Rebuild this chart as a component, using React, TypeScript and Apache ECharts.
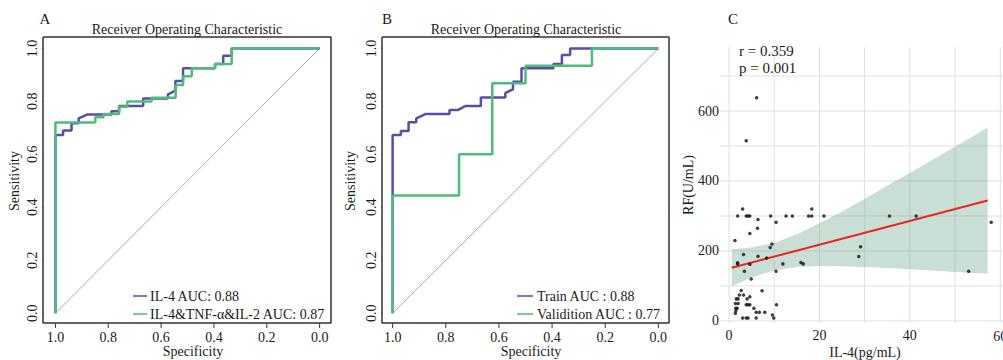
import React, { useEffect, useRef } from "react";
import * as echarts from "echarts";

// ---------- Panel A / B : ROC curves, points are [specificity, sensitivity] ----------
const rocTicks = [0, 0.2, 0.4, 0.6, 0.8, 1.0];

const il4Curve = [
  [1, 0], [1, 0.673], [0.971, 0.673], [0.971, 0.69], [0.939, 0.69], [0.939, 0.717],
  [0.912, 0.717], [0.912, 0.736], [0.88, 0.75], [0.788, 0.75], [0.788, 0.763],
  [0.759, 0.763], [0.759, 0.782], [0.668, 0.782], [0.668, 0.811], [0.574, 0.811],
  [0.574, 0.826], [0.546, 0.84], [0.546, 0.877], [0.517, 0.877], [0.517, 0.925],
  [0.396, 0.925], [0.396, 0.941], [0.365, 0.941], [0.365, 0.972], [0.333, 0.972],
  [0.333, 1], [0, 1],
];

const comboCurve = [
  [1, 0], [1, 0.72], [0.849, 0.72], [0.849, 0.74], [0.818, 0.74], [0.818, 0.752],
  [0.759, 0.752], [0.759, 0.78], [0.728, 0.78], [0.728, 0.799], [0.636, 0.799],
  [0.636, 0.814], [0.545, 0.814], [0.545, 0.862], [0.517, 0.862], [0.517, 0.895],
  [0.484, 0.895], [0.484, 0.925], [0.396, 0.925], [0.396, 0.941], [0.333, 0.941],
  [0.333, 1], [0, 1],
];

const trainCurve = [
  [1, 0], [1, 0.673], [0.969, 0.673], [0.969, 0.688], [0.94, 0.688], [0.94, 0.721],
  [0.911, 0.721], [0.911, 0.736], [0.877, 0.752], [0.786, 0.752], [0.786, 0.767],
  [0.755, 0.767], [0.727, 0.782], [0.668, 0.782], [0.668, 0.815], [0.576, 0.815],
  [0.576, 0.832], [0.547, 0.845], [0.547, 0.874], [0.515, 0.874], [0.515, 0.925],
  [0.395, 0.925], [0.395, 0.941], [0.363, 0.941], [0.363, 0.975], [0.332, 0.975],
  [0.332, 1], [0, 1],
];

const validCurve = [
  [1, 0], [1, 0.444], [0.75, 0.444], [0.75, 0.6], [0.625, 0.6], [0.625, 0.868],
  [0.5, 0.868], [0.5, 0.934], [0.25, 0.934], [0.25, 1], [0, 1],
];

const chanceLine = [[1, 0], [0, 1]];

const legendA = ["IL-4 AUC: 0.88", "IL-4&TNF-α&IL-2 AUC: 0.87"];
const legendB = ["Train AUC : 0.88", "Validition AUC : 0.77"];

// ---------- Panel C : scatter IL-4 vs RF ----------
const il4Values = [
  3.0, 1.9, 3.8, 4.2, 4.6, 9.2, 12.6, 14.0, 17.6, 18.3, 18.3, 21.0, 6.4, 6.3, 4.6,
  1.3, 9.5, 9.1, 3.2, 6.4, 8.3, 1.9, 1.9, 4.6, 11.9, 15.9, 16.4, 3.4, 10.4, 4.9,
  7.3, 2.7, 2.3, 3.2, 4.0, 1.6, 2.0, 4.6, 1.4, 2.0, 3.8, 4.2, 4.6, 10.5, 1.5,
  1.8, 1.5, 1.4, 5.5, 6.0, 6.7, 7.9, 9.6, 3.0, 3.8, 4.2, 6.0, 9.9, 10.4, 35.5,
  41.4, 29.1, 28.7, 53.0, 58.0, 6.1, 3.8,
];
const rfValues = [
  320, 300, 300, 300, 300, 300, 300, 300, 300, 300, 320, 300, 290, 265, 250,
  230, 220, 210, 190, 185, 180, 166, 163, 162, 163, 167, 163, 142, 142, 120,
  86, 87, 74, 74, 63, 63, 63, 69, 50, 50, 46, 46, 46, 46, 36,
  36, 29, 22, 36, 25, 25, 25, 17, 8, 8, 8, 8, 8, 282, 300,
  300, 212, 184, 142, 282, 638, 515,
];

const fitX = [0.6, 57.2];
const fitY = [152, 344];

const bandX = [0.6, 5, 10, 15, 20, 25, 30, 35, 40, 45, 50, 57.2];
const bandLower = [99, 124, 145, 154, 157, 156, 154, 151, 148, 144, 140, 135];
const bandUpper = [205, 210, 223, 248, 279, 313, 349, 386, 423, 461, 498, 553];

const xTicksC = [0, 20, 40, 60];
const yTicksC = [0, 200, 400, 600];
const xGridC = [0, 10, 20, 30, 40, 50, 60];
const yGridC = [0, 100, 200, 300, 400, 500, 600, 700];

const FONT = '"Liberation Serif", "Times New Roman", serif';
const PURPLE = "#5A4DA6";
const GREEN = "#4DBD7A";
const TXT = "#1a1a1a";
const BOX = "#333333";
const GRIDC = "#e0e0e0";

const rocX = [
  { min: -0.043, max: 1.047 },
  { min: -0.04, max: 1.04 },
];
const rocY = { min: -0.037, max: 1.043 };
const cX = { min: -2, max: 60.6 };
const cY = { min: -6, max: 783 };

const rocLabelFmt = (v: number) => v.toFixed(1);

function rocXAxis(gridIndex: number) {
  return {
    type: "value",
    gridIndex,
    position: "bottom",
    inverse: true,
    min: rocX[gridIndex].min,
    max: rocX[gridIndex].max,
    axisLine: { show: false, onZero: false },
    splitLine: { show: false },
    axisTick: { show: false },
    axisLabel: {
      customValues: rocTicks,
      formatter: rocLabelFmt,
      fontFamily: FONT,
      fontSize: 14,
      color: TXT,
      margin: 7,
    },
  };
}

function rocYAxis(gridIndex: number) {
  return {
    type: "value",
    gridIndex,
    position: "left",
    min: rocY.min,
    max: rocY.max,
    axisLine: { show: false, onZero: false },
    splitLine: { show: false },
    axisTick: { show: false },
    axisLabel: {
      customValues: rocTicks,
      formatter: rocLabelFmt,
      fontFamily: FONT,
      fontSize: 14,
      color: TXT,
      rotate: 90,
      margin: 4,
    },
  };
}

function txt(text: string, x: number, y: number, size: number, align = "center", rotation = 0) {
  return {
    type: "text",
    x,
    y,
    rotation,
    silent: true,
    z: 20,
    style: {
      text,
      font: `${size}px ${FONT}`,
      fill: TXT,
      align,
      verticalAlign: "middle",
    },
  };
}

function legendLine(x1: number, x2: number, y: number, color: string) {
  return {
    type: "line",
    silent: true,
    z: 20,
    shape: { x1, y1: y, x2, y2: y },
    style: { stroke: color, lineWidth: 1.5 },
  };
}

// a plain line series through the given points (used for curves and rules)
function path(data: any[], color: string, width: number, idx: number, z: number, name?: string) {
  return {
    name,
    type: "line",
    xAxisIndex: idx,
    yAxisIndex: idx,
    data,
    showSymbol: false,
    symbol: "none",
    clip: false,
    connectNulls: false,
    lineStyle: { color, width },
    z,
    silent: true,
  };
}

export default function App() {
  const ref = useRef<HTMLDivElement>(null);

  useEffect(() => {
    document.body.style.margin = "0";
    if (!ref.current) return;
    const chart = echarts.init(ref.current, undefined, { renderer: "svg" });

    const grids = [
      { left: 43, top: 37, width: 288, height: 286 },
      { left: 382, top: 37, width: 287, height: 286 },
      { left: 720, top: 47, width: 283, height: 276 },
    ];

    const scatterData = il4Values.map((x, i) => [x, rfValues[i]]);
    const bandData = bandX.map((x, i) => [x, bandLower[i], bandUpper[i]]);

    const series: any[] = [];

    // ROC panels: frame, ticks, chance line and curves as line series on the panel's own axes
    [0, 1].forEach((gi) => {
      const xr = rocX[gi];
      const frame = [
        [xr.max, rocY.max],
        [xr.min, rocY.max],
        [xr.min, rocY.min],
        [xr.max, rocY.min],
        [xr.max, rocY.max],
      ];
      series.push(path(frame, BOX, 1.5, gi, 10));
      // tick length of 5 px expressed in each axis' units
      const tx = (5 * (xr.max - xr.min)) / grids[gi].width;
      const ty = (5 * (rocY.max - rocY.min)) / grids[gi].height;
      rocTicks.forEach((t) => {
        series.push(path([[t, rocY.min], [t, rocY.min - ty]], BOX, 1, gi, 10));
        series.push(path([[xr.max, t], [xr.max + tx, t]], BOX, 1, gi, 10));
      });
      series.push(path(chanceLine, "#aaaaaa", 1, gi, 1));
    });
    series.push(path(il4Curve, PURPLE, 2.5, 0, 2, legendA[0]));
    series.push(path(comboCurve, GREEN, 2.5, 0, 3, legendA[1]));
    series.push(path(trainCurve, PURPLE, 2.5, 1, 2, legendB[0]));
    series.push(path(validCurve, GREEN, 2.5, 1, 3, legendB[1]));

    // panel C grid lines
    xGridC.forEach((v) => {
      if (v <= cX.max) series.push(path([[v, cY.min], [v, cY.max]], GRIDC, 1, 2, 0));
    });
    yGridC.forEach((v) => {
      series.push(path([[cX.min, v], [cX.max, v]], GRIDC, 1, 2, 0));
    });

    series.push({
      type: "custom",
      xAxisIndex: 2,
      yAxisIndex: 2,
      data: bandData,
      encode: { x: 0, y: [1, 2] },
      z: 2,
      silent: true,
      renderItem: (params: any, api: any) => {
        if (params.dataIndex !== 0) return null;
        const up = bandX.map((x, i) => api.coord([x, bandUpper[i]]));
        const lo = bandX.map((x, i) => api.coord([x, bandLower[i]])).reverse();
        return {
          type: "polygon",
          shape: { points: up.concat(lo) },
          style: { fill: "rgba(100,160,135,0.35)", stroke: "none" },
        };
      },
    });
    series.push(path(fitX.map((x, i) => [x, fitY[i]]), "#e8261e", 2, 2, 3));
    series.push({
      type: "scatter",
      xAxisIndex: 2,
      yAxisIndex: 2,
      data: scatterData,
      symbolSize: 3.5,
      itemStyle: { color: "#111111" },
      z: 4,
      silent: true,
    });

    const option: any = {
      animation: false,
      grid: grids,
      xAxis: [
        rocXAxis(0),
        rocXAxis(1),
        {
          type: "value",
          gridIndex: 2,
          min: cX.min,
          max: cX.max,
          axisLine: { show: false, onZero: false },
          axisTick: { show: false },
          splitLine: { show: false },
          axisLabel: {
            customValues: xTicksC.filter((v) => v < 60),
            fontFamily: FONT,
            fontSize: 14,
            color: TXT,
            margin: 5,
          },
        },
      ],
      yAxis: [
        rocYAxis(0),
        rocYAxis(1),
        {
          type: "value",
          gridIndex: 2,
          min: cY.min,
          max: cY.max,
          axisLine: { show: false, onZero: false },
          axisTick: { show: false },
          splitLine: { show: false },
          axisLabel: { customValues: yTicksC, fontFamily: FONT, fontSize: 14, color: TXT, margin: 1 },
        },
      ],
      series,
    };

    chart.setOption(option);

    const g: any[] = [
      txt("A", 45, 19, 15),
      txt("B", 387, 19, 15),
      txt("C", 733, 19, 15),
      txt("Receiver Operating Characteristic", 187, 29, 14),
      txt("Receiver Operating Characteristic", 526, 29, 14),
      txt("Specificity", 193, 351, 14),
      txt("Specificity", 531, 351, 14),
      txt("Sensitivity", 14, 181, 14, "center", Math.PI / 2),
      txt("Sensitivity", 350, 181, 14, "center", Math.PI / 2),
      legendLine(133, 147, 296, PURPLE),
      txt(legendA[0], 150, 296, 14, "left"),
      legendLine(133, 147, 314, GREEN),
      txt(legendA[1], 150, 314, 14, "left"),
      legendLine(517, 533, 296, PURPLE),
      txt(legendB[0], 537, 296, 14, "left"),
      legendLine(517, 533, 314, GREEN),
      txt(legendB[1], 537, 314, 14, "left"),
      txt("r = 0.359", 739, 51, 15, "left"),
      txt("p = 0.001", 739, 68, 15, "left"),
      txt("RF(U/mL)", 688, 185, 14, "center", Math.PI / 2),
      txt("IL-4(pg/mL)", 865, 352, 14),
    ];
    xTicksC
      .filter((v) => v >= 60)
      .forEach((v) => {
        const p = chart.convertToPixel({ gridIndex: 2 }, [v, cY.min]) as number[];
        g.push(txt(String(v), p[0], p[1] + 13, 14));
      });

    chart.setOption({ graphic: g });
    return () => chart.dispose();
  }, []);

  return (
    <div
      ref={ref}
      style={{ position: "absolute", left: 0, top: 0, width: 1003, height: 360 }}
    />
  );
}
